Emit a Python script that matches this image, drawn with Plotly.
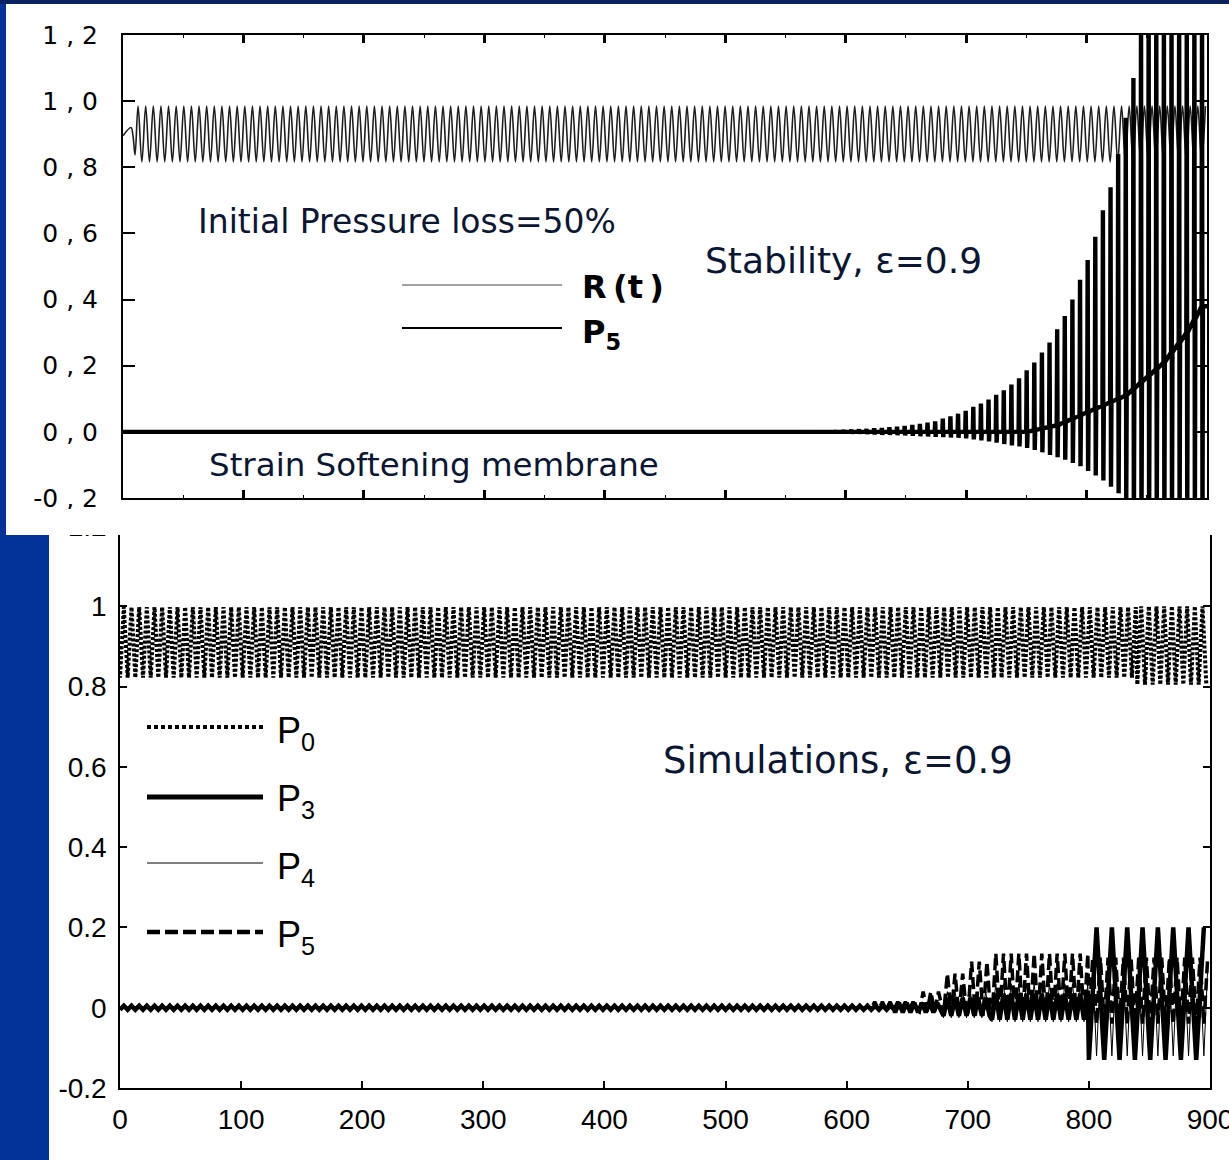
import plotly.graph_objects as go

# ---------------- values ----------------
X_TICKS = [0, 100, 200, 300, 400, 500, 600, 700, 800, 900]
X_TICK_LABELS = ["0", "100", "200", "300", "400", "500", "600", "700", "800", "900"]
SP = "\u2008"
TOP_Y_TICKS = [-0.2, 0.0, 0.2, 0.4, 0.6, 0.8, 1.0, 1.2]
TOP_Y_LABELS = ["-0" + SP + "," + SP + "2", "0" + SP + "," + SP + "0", "0" + SP + "," + SP + "2",
                "0" + SP + "," + SP + "4", "0" + SP + "," + SP + "6", "0" + SP + "," + SP + "8",
                "1" + SP + "," + SP + "0", "1" + SP + "," + SP + "2"]
BOT_Y_TICKS = [-0.2, 0.0, 0.2, 0.4, 0.6, 0.8, 1.0, 1.2]
BOT_Y_LABELS = ["-0.2", "0", "0.2", "0.4", "0.6", "0.8", "1", "1.2"]

PERIOD = 6.33          # oscillation period (time units)

# --- top panel: R(t) (thin grey) ---
R_START_T = [0, 6.6, 8.3, 10.0]
R_START_V = [0.895, 0.92, 0.895, 0.837]
R_FIRST_PEAK_T = 12.5
R_PEAK = 0.985
R_TROUGH = 0.816
R_END_T = 900

# --- top panel: P5 (thick black) ---
P5_TOP_FLAT_T = [0, 560]
P5_TOP_FLAT_V = [0.0, 0.0]
P5_TOP_CYCLE_START = 560
P5_TOP_PEAK = [0.002, 0.003, 0.003, 0.004, 0.004, 0.005, 0.006, 0.007, 0.008, 0.009,
               0.011, 0.012, 0.014, 0.016, 0.018, 0.021, 0.024, 0.028, 0.032, 0.040,
               0.047, 0.055, 0.064, 0.076, 0.086, 0.098, 0.112, 0.126, 0.143, 0.162,
               0.186, 0.21, 0.24, 0.27, 0.31, 0.35, 0.40, 0.46, 0.52, 0.59,
               0.67, 0.74, 0.84, 0.95, 1.07, 1.3, 1.3, 1.3, 1.3, 1.3,
               1.3, 1.3, 1.3, 1.3]
P5_TOP_TROUGH = [-0.001, -0.002, -0.002, -0.003, -0.003, -0.004, -0.005, -0.006, -0.006, -0.007,
                 -0.008, -0.009, -0.009, -0.010, -0.011, -0.012, -0.013, -0.014, -0.015, -0.016,
                 -0.017, -0.018, -0.020, -0.023, -0.026, -0.029, -0.033, -0.037, -0.041, -0.044,
                 -0.049, -0.055, -0.062, -0.070, -0.077, -0.084, -0.094, -0.104, -0.118, -0.132,
                 -0.147, -0.166, -0.186, -0.21, -0.3, -0.3, -0.3, -0.3, -0.3, -0.3,
                 -0.3, -0.3, -0.3, -0.3]
P5_TOP_MEAN = [0, 0, 0, 0, 0, 0, 0, 0, 0, 0,
               0, 0, 0, 0, 0, 0, 0, 0, 0, 0,
               0, 0, 0, 0, 0, 0, 0, 0, 0, 0,
               0, 0.005, 0.01, 0.015, 0.02, 0.03, 0.04, 0.05, 0.06, 0.07,
               0.08, 0.09, 0.10, 0.11, 0.13, 0.15, 0.17, 0.19, 0.21, 0.24,
               0.27, 0.30, 0.34, 0.38]

# --- bottom panel: segments (start, end, high, low, period) ---
P0_START_T = [0]
P0_START_V = [0.90]
P0_SEG_T0 = [0, 840]
P0_SEG_T1 = [840, 900]
P0_SEG_HI = [0.998, 1.0]
P0_SEG_LO = [0.822, 0.805]
P0_SEG_PER = [6.33, 6.33]

P3_SEG_T0 = [0, 640, 680, 720, 800]
P3_SEG_T1 = [640, 680, 720, 800, 900]
P3_SEG_HI = [0.005, 0.012, 0.025, 0.035, 0.20]
P3_SEG_LO = [-0.005, -0.012, -0.02, -0.03, -0.13]
P3_SEG_PER = [6.33, 6.33, 6.33, 6.33, 12.66]

P4_SEG_T0 = [0, 640, 680, 720, 800]
P4_SEG_T1 = [640, 680, 720, 800, 900]
P4_SEG_HI = [0.003, 0.015, 0.04, 0.06, 0.10]
P4_SEG_LO = [-0.003, -0.012, -0.025, -0.035, -0.12]
P4_SEG_PER = [6.33, 6.33, 6.33, 6.33, 6.33]

P5_SEG_T0 = [0, 620, 660, 680, 700, 720, 800]
P5_SEG_T1 = [620, 660, 680, 700, 720, 800, 900]
P5_SEG_HI = [0.005, 0.015, 0.04, 0.085, 0.115, 0.135, 0.125]
P5_SEG_LO = [-0.004, -0.005, -0.01, -0.015, -0.02, -0.025, -0.04]
P5_SEG_PER = [6.33, 6.33, 6.33, 6.33, 6.33, 6.33, 6.33]

TOP_TEXTS = ["Initial Pressure loss=50%", "Stability, \u03b5=0.9", "Strain Softening membrane"]
BOT_TEXT = "Simulations, \u03b5=0.9"
TOP_LEGEND = ["R\u2009(t\u2009)", "P<sub>5</sub>"]
BOT_LEGEND = ["P<sub>0</sub>", "P<sub>3</sub>", "P<sub>4</sub>", "P<sub>5</sub>"]

# ---------------- helpers ----------------
W, H = 1229, 1160


def fx(p):
    return p / W


def fy(p):
    return 1 - p / H


def alternating(t_first, t_last, first_val, second_val, period):
    ts, vs = [], []
    half = period / 2.0
    j = 0
    t = t_first
    while t <= t_last + 1e-9:
        ts.append(t)
        vs.append(first_val if j % 2 == 0 else second_val)
        j += 1
        t = t_first + j * half
    return ts, vs


def segments(t0s, t1s, his, los, pers):
    ts, vs = [], []
    for a, b, hi, lo, per in zip(t0s, t1s, his, los, pers):
        st, sv = alternating(a, b, lo, hi, per)
        ts += st
        vs += sv
    return ts, vs


# R(t)
r_t, r_v = alternating(R_FIRST_PEAK_T, R_END_T, R_PEAK, R_TROUGH, PERIOD)
r_t = R_START_T + r_t
r_v = R_START_V + r_v

# top P5: flat, then narrow spikes around a drifting mean
p5t_t = list(P5_TOP_FLAT_T)
p5t_v = list(P5_TOP_FLAT_V)
for k, (pk, tr, mn) in enumerate(zip(P5_TOP_PEAK, P5_TOP_TROUGH, P5_TOP_MEAN)):
    t0 = P5_TOP_CYCLE_START + k * PERIOD
    p5t_t += [t0, t0 + 0.06 * PERIOD, t0 + 0.12 * PERIOD, t0 + 0.18 * PERIOD]
    p5t_v += [mn, pk, tr, mn]
p5t_t.append(900)
p5t_v.append(P5_TOP_MEAN[-1])

p0_t, p0_v = segments(P0_SEG_T0, P0_SEG_T1, P0_SEG_HI, P0_SEG_LO, P0_SEG_PER)
p0_t = P0_START_T + p0_t
p0_v = P0_START_V + p0_v
p3_t, p3_v = segments(P3_SEG_T0, P3_SEG_T1, P3_SEG_HI, P3_SEG_LO, P3_SEG_PER)
p4_t, p4_v = segments(P4_SEG_T0, P4_SEG_T1, P4_SEG_HI, P4_SEG_LO, P4_SEG_PER)
p5_t, p5_v = segments(P5_SEG_T0, P5_SEG_T1, P5_SEG_HI, P5_SEG_LO, P5_SEG_PER)

fig = go.Figure()

# top panel traces
fig.add_trace(go.Scatter(x=r_t, y=r_v, mode="lines", xaxis="x", yaxis="y",
                         line=dict(color="#1e1e1e", width=1.6, shape="spline"),
                         name="R(t)", showlegend=False))
fig.add_trace(go.Scatter(x=p5t_t, y=p5t_v, mode="lines", xaxis="x", yaxis="y",
                         line=dict(color="black", width=4.4),
                         name="P5", showlegend=False))

# bottom panel traces
fig.add_trace(go.Scatter(x=p0_t, y=p0_v, mode="lines", xaxis="x2", yaxis="y2",
                         line=dict(color="black", width=4, dash="3px,2px"),
                         name="P0", showlegend=False))
fig.add_trace(go.Scatter(x=p5_t, y=p5_v, mode="lines", xaxis="x2", yaxis="y2",
                         line=dict(color="black", width=3.5, dash="12px,5px"),
                         name="P5", showlegend=False))
fig.add_trace(go.Scatter(x=p3_t, y=p3_v, mode="lines", xaxis="x2", yaxis="y2",
                         line=dict(color="black", width=4.5),
                         name="P3", showlegend=False))
fig.add_trace(go.Scatter(x=p4_t, y=p4_v, mode="lines", xaxis="x2", yaxis="y2",
                         line=dict(color="black", width=1),
                         name="P4", showlegend=False))

axis_common = dict(showgrid=False, zeroline=False, showline=True, linecolor="black",
                   mirror="ticks", ticks="inside", tickcolor="black", automargin=False,
                   ticklabeloverflow="allow")

fig.update_layout(
    width=W, height=H,
    margin=dict(l=0, r=0, t=0, b=0, pad=0, autoexpand=False),
    paper_bgcolor="#033399",
    plot_bgcolor="white",
    showlegend=False,
    xaxis=dict(domain=[fx(123), fx(1207)], range=[0, 900], anchor="y",
               tickvals=X_TICKS, showticklabels=False, ticklen=8, tickwidth=2.5,
               linewidth=2, minor=dict(ticks="inside", ticklen=3, dtick=50, tick0=0,
                                       tickcolor="black", tickwidth=1),
               **axis_common),
    yaxis=dict(domain=[fy(498), fy(35)], range=[-0.2, 1.2], anchor="x",
               tickvals=TOP_Y_TICKS, ticktext=TOP_Y_LABELS, ticklen=12, tickwidth=1.5,
               linewidth=2, ticklabelstandoff=18,
               tickfont=dict(family="DejaVu Sans", size=25, color="black"),
               **axis_common),
    xaxis2=dict(domain=[fx(120), fx(1210)], range=[0, 900], anchor="y2",
                tickvals=X_TICKS, ticktext=X_TICK_LABELS, ticklen=7, tickwidth=1.5,
                linewidth=1.5, ticklabelstandoff=6,
                tickfont=dict(family="Liberation Sans", size=28, color="black"),
                **axis_common),
    yaxis2=dict(domain=[fy(1088), fy(526)], range=[-0.2, 1.2], anchor="x2",
                tickvals=BOT_Y_TICKS, ticktext=BOT_Y_LABELS, ticklen=7, tickwidth=1.5,
                linewidth=1.5, ticklabelstandoff=6,
                tickfont=dict(family="Liberation Sans", size=28, color="black"),
                **axis_common),
)

shapes = [
    # dark strip at top
    dict(type="rect", xref="paper", yref="paper", x0=0, x1=1, y0=fy(4), y1=1,
         fillcolor="#0c2363", line=dict(width=0), layer="below"),
    # white card of top panel
    dict(type="rect", xref="paper", yref="paper", x0=fx(6), x1=1, y0=fy(535), y1=fy(4),
         fillcolor="white", line=dict(width=0), layer="below"),
    # white card of bottom panel
    dict(type="rect", xref="paper", yref="paper", x0=fx(49), x1=1, y0=0, y1=fy(520),
         fillcolor="white", line=dict(width=0), layer="below"),
    # top card overlaps the top edge of the bottom panel
    dict(type="rect", xref="paper", yref="paper", x0=fx(6), x1=1, y0=fy(535), y1=fy(509),
         fillcolor="white", line=dict(width=0), layer="above"),
    # top legend samples
    dict(type="line", xref="paper", yref="paper", x0=fx(402), x1=fx(562), y0=fy(285), y1=fy(285),
         line=dict(color="#444444", width=1), layer="above"),
    dict(type="line", xref="paper", yref="paper", x0=fx(402), x1=fx(562), y0=fy(328), y1=fy(328),
         line=dict(color="black", width=2), layer="above"),
    # bottom legend samples
    dict(type="line", xref="paper", yref="paper", x0=fx(147), x1=fx(263), y0=fy(727), y1=fy(727),
         line=dict(color="black", width=4, dash="4px,3px"), layer="above"),
    dict(type="line", xref="paper", yref="paper", x0=fx(147), x1=fx(263), y0=fy(797), y1=fy(797),
         line=dict(color="black", width=5), layer="above"),
    dict(type="line", xref="paper", yref="paper", x0=fx(147), x1=fx(263), y0=fy(863), y1=fy(863),
         line=dict(color="black", width=1), layer="above"),
    dict(type="line", xref="paper", yref="paper", x0=fx(147), x1=fx(263), y0=fy(932), y1=fy(932),
         line=dict(color="black", width=4.5, dash="13px,5px"), layer="above"),
]
fig.update_layout(shapes=shapes)

TXT = "#0b1633"
annots = [
    dict(text=TOP_TEXTS[0], x=fx(196), y=fy(221), font=dict(family="DejaVu Sans", size=33, color=TXT)),
    dict(text=TOP_TEXTS[1], x=fx(703), y=fy(260), font=dict(family="DejaVu Sans", size=36, color=TXT)),
    dict(text=TOP_TEXTS[2], x=fx(207), y=fy(465), font=dict(family="DejaVu Sans", size=32.5, color=TXT)),
    dict(text=BOT_TEXT, x=fx(661), y=fy(760), font=dict(family="DejaVu Sans", size=37, color=TXT)),
    dict(text=TOP_LEGEND[0], x=fx(580), y=fy(287),
         font=dict(family="DejaVu Sans", size=32, color="black", weight="bold")),
    dict(text=TOP_LEGEND[1], x=fx(580), y=fy(334),
         font=dict(family="DejaVu Sans", size=32, color="black", weight="bold")),
]
for lab, yc in zip(BOT_LEGEND, [733, 801, 869, 937]):
    annots.append(dict(text=lab, x=fx(275), y=fy(yc),
                       font=dict(family="Liberation Sans", size=36, color="black")))
for a in annots:
    a.update(xref="paper", yref="paper", xanchor="left", yanchor="middle", showarrow=False)
fig.update_layout(annotations=annots)

fig.write_html("out.html")
